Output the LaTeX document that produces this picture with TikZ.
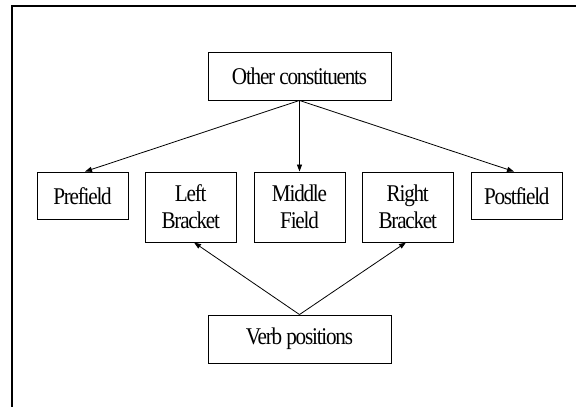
\documentclass[tikz,border=0pt]{standalone}
\usepackage{fontspec}
\setmainfont{Liberation Serif}[FakeStretch=0.88, LetterSpace=-5]
\usetikzlibrary{arrows.meta}
\begin{document}
\begin{tikzpicture}[x=1pt,y=-1pt,
  field/.style={draw, line width=0.9pt, inner sep=0pt, align=center,
    minimum width=91pt, font=\fontsize{24}{27}\selectfont},
  wide/.style={field, minimum width=183pt, minimum height=48pt},
  link/.style={line width=0.8pt, -{Triangle[length=7pt,width=5pt]}}]
\useasboundingbox (0,0) rectangle (576,407);
% open frame: left and top edges only
\draw[line width=2pt] (12,407) -- (12,6) -- (576,6);
% boxes
\node[wide] (oth) at (299.5,76) {Other constituents};
\node[field, minimum height=47.5pt] (pre) at (82.5,195.75) {Prefield};
\node[field, minimum height=70pt] (lb) at (190.75,207) {Left\\Bracket};
\node[field, minimum height=70pt] (mf) at (299.5,207) {Middle\\Field};
\node[field, minimum height=70pt] (rb) at (407.75,207) {Right\\Bracket};
\node[field, minimum height=47.5pt] (post) at (516.75,195.75) {Postfield};
\node[wide] (vp) at (299.5,339) {Verb positions};
% connectors
\draw[link] (oth.south) -- (pre.north -| 85,0);
\draw[link] (oth.south) -- (mf.north);
\draw[link] (oth.south) -- (post.north -| 514,0);
\draw[link] (vp.north) -- (lb.south -| 194,0);
\draw[link] (vp.north) -- (rb.south -| 406,0);
\end{tikzpicture}
\end{document}
